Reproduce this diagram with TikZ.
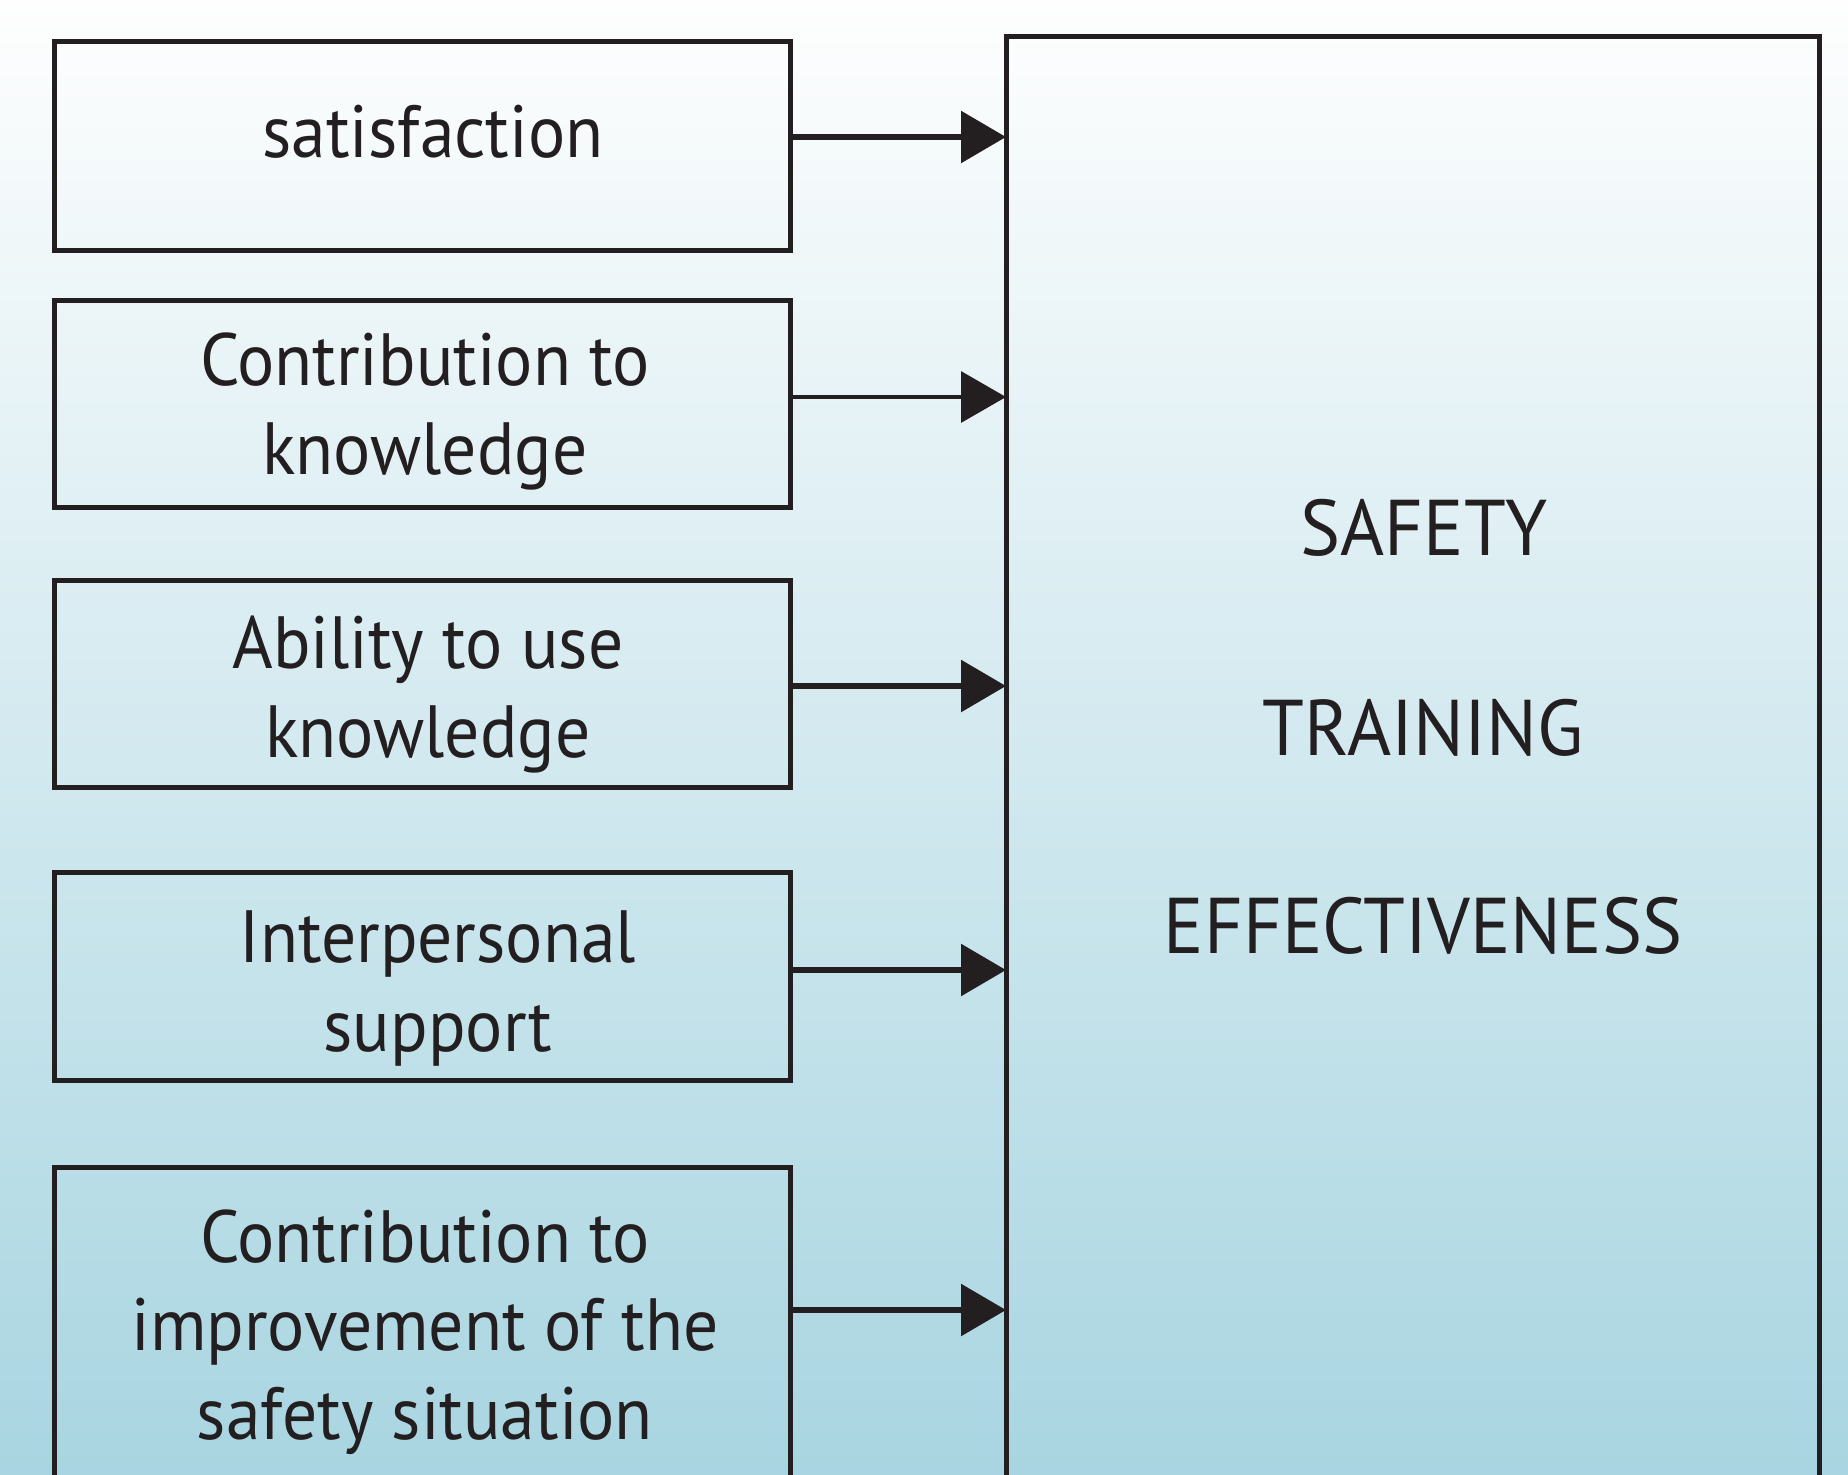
\documentclass[tikz,border=0pt]{standalone}
\usepackage{fontspec}
\setmainfont{PT Sans}[FakeStretch=0.94]
\newfontfamily\bigfont{PT Sans}[FakeStretch=0.955]
\usetikzlibrary{arrows.meta,calc}
\definecolor{ink}{HTML}{231F20}
\definecolor{bgtop}{HTML}{FEFEFE}
\definecolor{bgbot}{HTML}{A8D5E1}
\begin{document}
\begin{tikzpicture}[x=1pt,y=-1pt,
  box/.style={draw=ink, line width=5pt, inner sep=0pt, minimum width=736pt},
  bigbox/.style={draw=ink, line width=5pt, inner sep=0pt, minimum width=813pt, minimum height=1464pt},
  lbl/.style={text=ink, font=\fontsize{74}{88.5}\selectfont, align=center, anchor=base, inner sep=0pt},
  biglbl/.style={text=ink, font=\bigfont\fontsize{79}{88}\selectfont, anchor=base, inner sep=0pt},
  arr/.style={draw=ink, line width=6pt, -{Triangle[length=45pt,width=51pt]}, shorten >=-2.5pt},
  thinarr/.style={arr, line width=3.3pt}]
\clip (0,0) rectangle (1848,1475);
\shade[top color=bgtop, bottom color=bgbot] (0,0) rectangle (1848,1475);
% boxes
\node[box, minimum height=209pt] (b1) at (422,145.5) {};
\node[box, minimum height=207pt] (b2) at (422,403.5) {};
\node[box, minimum height=207pt] (b3) at (422,683.5) {};
\node[box, minimum height=208pt] (b4) at (422,976) {};
\node[box, minimum height=333pt] (b5) at (422,1333.5) {};
\node[bigbox] (big) at (1412.5,768) {};
% labels (anchor base = baseline of the last line)
\node[lbl] (t1) at (433,157) {satisfaction};
\node[lbl] (t2) at (425,474) {Contribution to\\knowledge};
\node[lbl] (t3) at (428,757) {Ability to use\\knowledge};
\node[lbl] (t4) at (438,1051) {Interpersonal\\support};
\node[lbl] (t5) at (425,1439) {Contribution to\\improvement of the\\safety situation};
\node[biglbl] (s1) at (1424,555) {SAFETY};
\node[biglbl] (s2) at (1423,755) {TRAINING};
\node[biglbl] (s3) at (1423,953) {EFFECTIVENESS};
% arrows
\draw[arr] ([yshift=8.5pt]b1.east) -- ([yshift=8.5pt]b1.east -| big.west);
\draw[thinarr] ([yshift=6.5pt]b2.east) -- ([yshift=6.5pt]b2.east -| big.west);
\draw[arr] ([yshift=-2.5pt]b3.east) -- ([yshift=-2.5pt]b3.east -| big.west);
\draw[arr] ([yshift=6pt]b4.east) -- ([yshift=6pt]b4.east -| big.west);
\draw[arr] ([yshift=23.5pt]b5.east) -- ([yshift=23.5pt]b5.east -| big.west);
\end{tikzpicture}
\end{document}
